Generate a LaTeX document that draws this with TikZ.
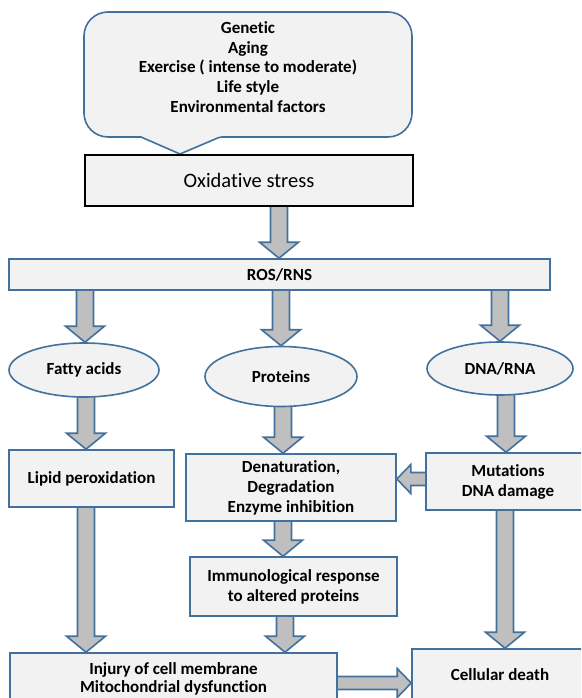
\documentclass[tikz,border=0pt]{standalone}
\usepackage{fontspec}
\setmainfont[Ligatures=NoCommon]{Carlito}
\usetikzlibrary{shapes.geometric,calc,backgrounds}
\definecolor{bord}{HTML}{41719C}
\definecolor{boxf}{HTML}{F2F2F2}
\definecolor{arf}{HTML}{BFBFBF}
\def\arsw{8.5pt}
\def\arhw{19.5pt}
\def\arhl{16pt}
\def\arhs{6.5pt}
\def\arhh{14.5pt}
\def\arhlh{14pt}
\newcommand{\darr}[3]{\draw[barrow] let \p1=(#2), \p2=(#3) in
 ({#1pt-\arsw},{\y1+4pt}) -- ({#1pt-\arsw},{\y2+\arhl}) -- ({#1pt-\arhw},{\y2+\arhl}) -- ({#1pt},{\y2})
 -- ({#1pt+\arhw},{\y2+\arhl}) -- ({#1pt+\arsw},{\y2+\arhl}) -- ({#1pt+\arsw},{\y1+4pt}) -- cycle;}
\newcommand{\harr}[4]{\draw[barrow] let \p1=(#2), \p2=(#3) in
 ({\x1-(#4)*4pt},{#1pt-\arhs}) -- ({\x2-(#4)*\arhlh},{#1pt-\arhs}) -- ({\x2-(#4)*\arhlh},{#1pt-\arhh}) -- ({\x2},{#1pt})
 -- ({\x2-(#4)*\arhlh},{#1pt+\arhh}) -- ({\x2-(#4)*\arhlh},{#1pt+\arhs}) -- ({\x1-(#4)*4pt},{#1pt+\arhs}) -- cycle;}
\tikzset{
 box/.style={draw=bord, fill=boxf, line width=1.6pt, rectangle, align=center,
   font=\bfseries\fontsize{17}{20}\selectfont, inner sep=0pt},
 ell/.style={box, ellipse},
 barrow/.style={draw=bord, fill=arf, line width=1.6pt, line join=miter},
 callout/.style={draw=bord, fill=boxf, line width=1.6pt},
}
\begin{document}
\begin{tikzpicture}[x=1pt,y=1pt]
\useasboundingbox (0,0) rectangle (581,-698);
\clip (0,0) rectangle (581,-698);
% callout
\draw[callout] (180,-154) -- (141,-137) [rounded corners=24pt] -- (84,-137) -- (84,-12) -- (412,-12) -- (412,-137) [rounded corners=2pt] -- (220,-137) [sharp corners] -- cycle;
\node[align=center, font=\bfseries\fontsize{17}{19.8}\selectfont, inner sep=0pt] (cal) at (248,-67)
 {Genetic\\Aging\\Exercise ( intense to moderate)\\Life style\\Environmental factors};
% nodes
\node[box, draw=black, line width=2.2pt, font=\fontsize{20.5}{22}\selectfont, minimum width=328, minimum height=51] (ox) at (249,-180.5) {Oxidative stress};
\node[box, minimum width=541, minimum height=31] (ros) at (279.5,-274.5) {ROS/RNS};
\node[ell, minimum width=150, minimum height=54] (fat) at (84,-370) {Fatty acids};
\node[ell, minimum width=152, minimum height=60] (pro) at (281,-376.5) {Proteins};
\node[ell, minimum width=146, minimum height=53] (dna) at (500,-368.5) {DNA/RNA};
\node[box, minimum width=165, minimum height=57] (lip) at (91.5,-478.5) {Lipid peroxidation};
\node[box, minimum width=210, minimum height=67] (den) at (291,-487.5) {Denaturation,\\Degradation\\Enzyme inhibition};
\node[box, minimum width=164, minimum height=57] (mut) at (508,-481.5) {Mutations\\DNA damage};
\node[box, minimum width=207, minimum height=59] (imm) at (293.5,-586.5) {Immunological response\\to altered proteins};
\node[box, minimum width=327, minimum height=52, font=\bfseries\fontsize{17}{18.5}\selectfont] (inj) at (173.5,-679) {Injury of cell membrane\\Mitochondrial dysfunction};
\node[box, minimum width=176, minimum height=52] (cel) at (500,-675) {Cellular death};
% arrows
\begin{scope}[on background layer]
\fill[white] (0,0) rectangle (581,-698);
\darr{279}{ox.south}{ros.north}
\darr{85}{ros.south}{fat.north}
\darr{281}{ros.south}{pro.north}
\darr{500}{ros.south}{dna.north}
\darr{86}{fat.south}{lip.north}
\darr{283}{pro.south}{den.north}
\darr{506}{dna.south}{mut.north}
\darr{86}{lip.south}{inj.north}
\darr{283}{den.south}{imm.north}
\darr{285}{imm.south}{inj.north}
\darr{505}{mut.south}{cel.north}
\harr{-479}{mut.west}{den.east}{-1}
\harr{-683}{inj.east}{cel.west}{1}
\end{scope}
\end{tikzpicture}
\end{document}
